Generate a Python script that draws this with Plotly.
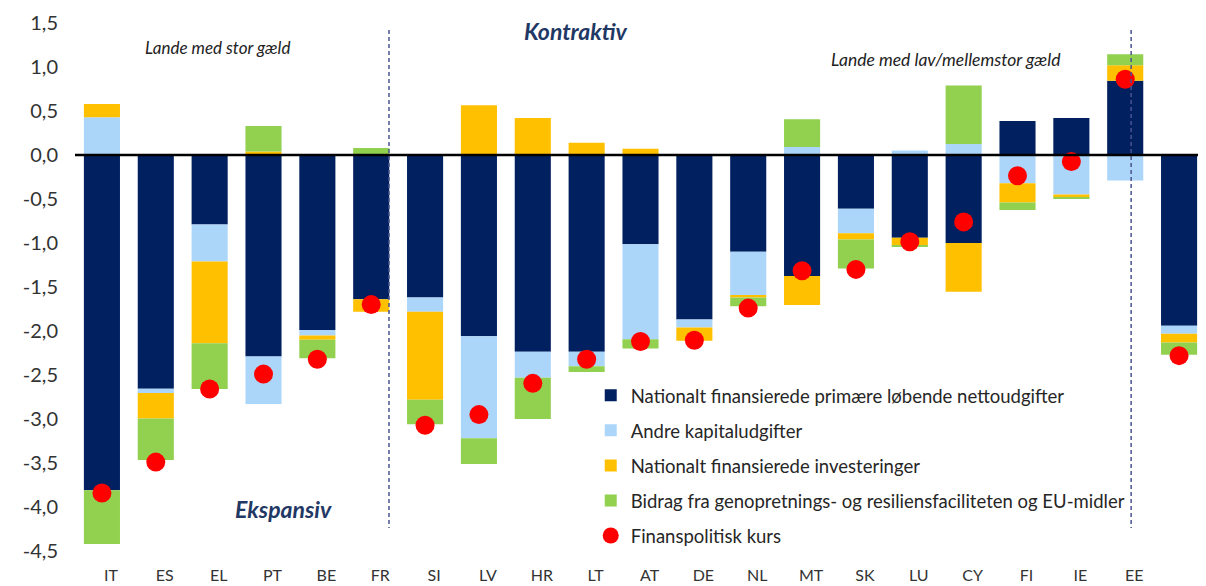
import plotly.graph_objects as go

countries = ["IT", "ES", "EL", "PT", "BE", "FR", "SI", "LV", "HR", "LT", "AT",
             "DE", "NL", "MT", "SK", "LU", "CY", "FI", "IE", "EE", "EA"]
tick_labels = ["IT", "ES", "EL", "PT", "BE", "FR", "SI", "LV", "HR", "LT", "AT",
               "DE", "NL", "MT", "SK", "LU", "CY", "FI", "IE", "EE", ""]
y_tick_values = [1.5, 1.0, 0.5, 0.0, -0.5, -1.0, -1.5, -2.0, -2.5, -3.0, -3.5, -4.0, -4.5]
y_tick_labels = ["1,5", "1,0", "0,5", "0,0", "-0,5", "-1,0", "-1,5", "-2,0", "-2,5",
                 "-3,0", "-3,5", "-4,0", "-4,5"]

nat_primary = [-3.81, -2.655, -0.79, -2.29, -1.99, -1.64, -1.62, -2.06, -2.235, -2.235, -1.015,
               -1.87, -1.10, -1.375, -0.61, -0.94, -1.00, 0.385, 0.42, 0.845, -1.94]
other_capital = [0.43, -0.05, -0.42, -0.54, -0.06, 0.0, -0.16, -1.16, -0.295, -0.165, -1.08,
                 -0.09, -0.49, 0.09, -0.28, 0.05, 0.125, -0.32, -0.45, -0.29, -0.09]
nat_invest = [0.15, -0.29, -0.93, 0.04, -0.05, -0.14, -1.00, 0.565, 0.42, 0.14, 0.07,
              -0.15, -0.03, -0.33, -0.07, -0.09, -0.555, -0.22, -0.035, 0.175, -0.10]
rrf_eu = [-0.61, -0.47, -0.52, 0.29, -0.21, 0.08, -0.28, -0.29, -0.47, -0.065, -0.105,
          0.0, -0.10, 0.315, -0.33, -0.015, 0.665, -0.085, -0.015, 0.125, -0.14]
fiscal_stance = [-3.84, -3.49, -2.66, -2.49, -2.32, -1.70, -3.07, -2.95, -2.595, -2.32, -2.12,
                 -2.105, -1.74, -1.315, -1.30, -0.985, -0.76, -0.235, -0.075, 0.86, -2.28]

series_names = [
    "Nationalt finansierede primære løbende nettoudgifter",
    "Andre kapitaludgifter",
    "Nationalt finansierede investeringer",
    "Bidrag fra genopretnings- og resiliensfaciliteten og EU-midler",
    "Finanspolitisk kurs",
]
colors = ["#002060", "#ABD6FA", "#FFC000", "#92D050", "#FF0000"]

FONT = "Lato"
fig = go.Figure()
for i, vals in enumerate([nat_primary, other_capital, nat_invest, rrf_eu]):
    fig.add_trace(go.Bar(
        x=countries, y=vals, name=series_names[i],
        marker=dict(color=colors[i], line=dict(width=0)),
        legendgroup=f"g{i}",
    ))
fig.add_trace(go.Scatter(
    x=countries, y=fiscal_stance, name=series_names[4], mode="markers",
    marker=dict(color=colors[4], size=19, line=dict(width=0)),
    legendgroup="g4",
))

line_col = "#4A5490"
shapes = [
    dict(type="line", xref="x", yref="y", x0=5.33, x1=5.33, y0=1.42, y1=-4.24,
         line=dict(color=line_col, width=1.5, dash="4px,3px"), layer="above"),
    dict(type="line", xref="x", yref="y", x0=19.11, x1=19.11, y0=1.42, y1=-4.24,
         line=dict(color=line_col, width=1.5, dash="4px,3px"), layer="above"),
    dict(type="line", xref="paper", yref="y", x0=0, x1=1, y0=0, y1=0,
         line=dict(color="black", width=2.5), layer="above"),
]

annotations = [
    dict(x=2.14, y=1.22, xref="x", yref="y", text="<i>Lande med stor gæld</i>", showarrow=False,
         font=dict(family=FONT, size=17, color="#222222")),
    dict(x=8.8, y=1.41, xref="x", yref="y", text="<b><i>Kontraktiv</i></b>", showarrow=False,
         font=dict(family=FONT, size=23, color="#1F3864")),
    dict(x=15.68, y=1.08, xref="x", yref="y", text="<i>Lande med lav/mellemstor gæld</i>",
         showarrow=False, font=dict(family=FONT, size=17.5, color="#222222")),
    dict(x=3.38, y=-4.02, xref="x", yref="y", text="<b><i>Ekspansiv</i></b>", showarrow=False,
         font=dict(family=FONT, size=23, color="#1F3864")),
]

fig.update_layout(
    width=1198, height=578,
    margin=dict(l=67, r=0, t=15, b=35),
    barmode="relative",
    bargap=0.33,
    plot_bgcolor="white", paper_bgcolor="white",
    font=dict(family=FONT, color="#333333"),
    shapes=shapes,
    annotations=annotations,
    legend=dict(
        x=0.456, y=0.330, xanchor="left", yanchor="top",
        traceorder="grouped", tracegroupgap=8,
        font=dict(family=FONT, size=18.5, color="#262626"),
        bgcolor="rgba(0,0,0,0)",
    ),
    showlegend=True,
)
fig.update_xaxes(
    type="category", tickvals=countries, ticktext=tick_labels,
    range=[-0.5, len(countries) - 0.5],
    showgrid=False, zeroline=False, showline=False, ticks="",
    tickfont=dict(family=FONT, size=16, color="#333333"),
    ticklabelshift=9, ticklabelstandoff=13, automargin=False,
)
fig.update_yaxes(
    range=[-4.5, 1.5], tickvals=y_tick_values, ticktext=y_tick_labels,
    showgrid=False, zeroline=False, showline=False, ticks="",
    tickfont=dict(family=FONT, size=20, color="#333333"),
    ticklabelstandoff=16, automargin=False,
)

fig.write_html("out.html")
